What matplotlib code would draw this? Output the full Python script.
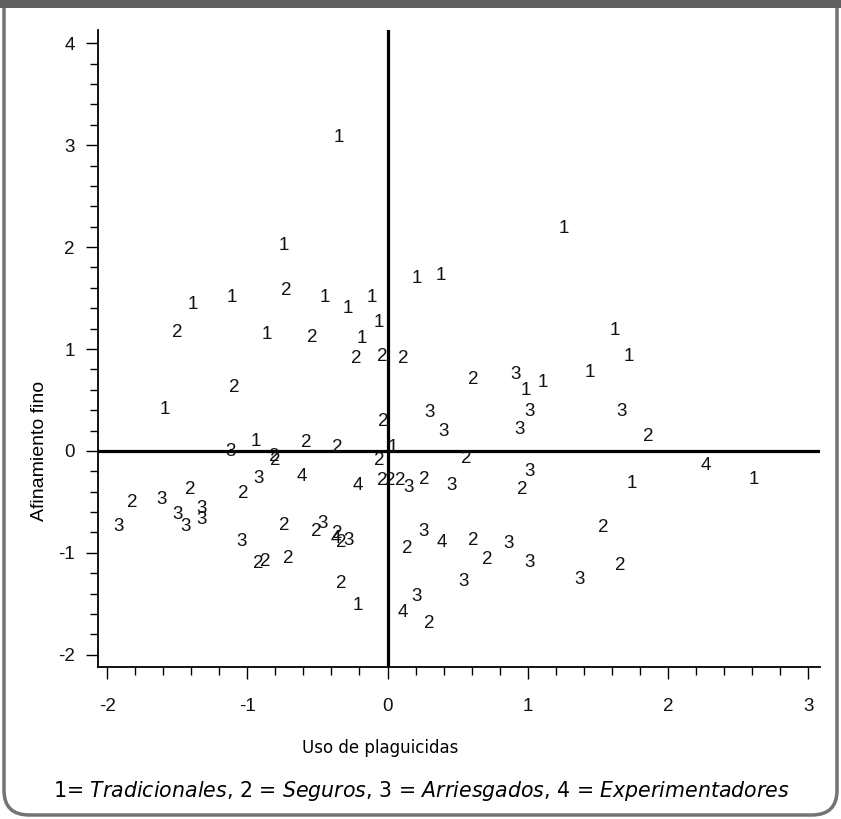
import matplotlib
matplotlib.use("Agg")
import matplotlib.pyplot as plt
from matplotlib.patches import FancyBboxPatch, Rectangle
from matplotlib.ticker import MultipleLocator

plt.rcParams['axes.unicode_minus'] = False
plt.rcParams['mathtext.fontset'] = 'custom'
plt.rcParams['mathtext.rm'] = 'DejaVu Sans'
plt.rcParams['mathtext.it'] = 'DejaVu Sans:italic'

# grupo de cada productor y sus puntuaciones en los dos factores
grupo = ['1'] * 24 + ['2'] * 38 + ['3'] * 26 + ['4'] * 6
uso = [
    # 1 = Tradicionales
    -0.35, 1.26, -0.74, 0.21, 0.38, -1.39, -1.11, -0.45, -0.28, -0.11, -0.06, -0.18,
    -0.86, 1.62, 1.72, 1.44, 0.99, 1.11, -1.59, -0.94, 0.04, 1.74, 2.61, -0.21,
    # 2 = Seguros
    -0.72, -1.50, -0.54, -0.22, -0.04, 0.11, 0.61, -1.09, -0.03, 1.86, -0.58, -0.36,
    -0.81, -0.80, -0.06, 0.56, -0.04, 0.02, 0.09, 0.26, 0.96, -1.41, -1.03, -1.82,
    -0.74, -0.51, -0.36, -0.33, 1.54, 0.61, 0.14, -0.92, -0.87, -0.71, 0.71, 1.66,
    -0.33, 0.30,
    # 3 = Arriesgados
    0.91, 0.30, 1.01, 1.67, 0.40, 0.94, -1.12, -0.92, 1.01, 0.15, 0.46, -1.61,
    -1.50, -1.33, -1.33, -1.44, -1.92, -0.46, -0.28, -1.04, 0.26, 0.86, 1.01, 0.54,
    1.37, 0.21,
    # 4 = Experimentadores
    -0.61, -0.21, -0.37, 0.39, 2.27, 0.11,
]
afinamiento = [
    3.08, 2.18, 2.02, 1.69, 1.72, 1.44, 1.51, 1.51, 1.40, 1.51, 1.26, 1.10,
    1.14, 1.18, 0.93, 0.77, 0.59, 0.67, 0.41, 0.09, 0.03, -0.32, -0.28, -1.52,
    1.57, 1.16, 1.11, 0.91, 0.93, 0.91, 0.70, 0.62, 0.29, 0.14, 0.08, 0.03,
    -0.05, -0.09, -0.09, -0.07, -0.29, -0.29, -0.29, -0.28, -0.38, -0.38, -0.42, -0.51,
    -0.73, -0.79, -0.81, -0.90, -0.75, -0.88, -0.96, -1.10, -1.08, -1.06, -1.07, -1.12,
    -1.30, -1.69,
    0.75, 0.38, 0.39, 0.39, 0.19, 0.21, -0.01, -0.27, -0.20, -0.36, -0.34, -0.48,
    -0.62, -0.56, -0.67, -0.74, -0.74, -0.71, -0.88, -0.89, -0.79, -0.91, -1.09, -1.28,
    -1.26, -1.43,
    -0.25, -0.34, -0.86, -0.90, -0.14, -1.59,
]

W, H = 841, 819
fig = plt.figure(figsize=(W / 100, H / 100), dpi=100)

# marco redondeado y franja superior
frame = FancyBboxPatch((4 / W, 4 / H), 833 / W, 840 / H,
                       boxstyle="round,pad=0,rounding_size=0.03",
                       transform=fig.transFigure, facecolor='white',
                       edgecolor='#737373', linewidth=2.5, zorder=-2)
fig.patches.append(frame)
fig.patches.append(Rectangle((0, 1 - 8 / H), 1, 8 / H, transform=fig.transFigure,
                             facecolor='#616161', edgecolor='none', zorder=-1))

ax = fig.add_axes([98 / W, 1 - 667 / H, 722 / W, 637 / H])
ax.set_zorder(5)
ax.set_facecolor('none')
ax.set_xlim(-2.065, 3.085)
ax.set_ylim(-2.12, 4.13)

for g, x, y in zip(grupo, uso, afinamiento):
    ax.text(x, y, g, ha='center', va='center', fontsize=13.5,
            family='Liberation Sans', color='#111111')

ax.axhline(0, color='black', lw=2.3)
ax.axvline(0, color='black', lw=2.3)

for s in ['top', 'right']:
    ax.spines[s].set_visible(False)
for s in ['left', 'bottom']:
    ax.spines[s].set_linewidth(1.3)

ax.xaxis.set_major_locator(MultipleLocator(1))
ax.xaxis.set_minor_locator(MultipleLocator(0.2))
ax.yaxis.set_major_locator(MultipleLocator(1))
ax.yaxis.set_minor_locator(MultipleLocator(0.2))
ax.tick_params(axis='both', which='major', length=8.6, width=1.0)
ax.tick_params(axis='both', which='minor', length=5.5, width=1.0)
ax.tick_params(axis='x', which='major', pad=14)
ax.tick_params(axis='y', which='major', pad=8)
for lab in ax.get_xticklabels() + ax.get_yticklabels():
    lab.set_family('Liberation Sans')
    lab.set_fontsize(13.5)
    lab.set_color('#111111')

fig.text(380 / W, 1 - 748 / H, 'Uso de plaguicidas', ha='center', va='center',
         fontsize=12, family='DejaVu Sans')
fig.text(40 / W, 1 - 451 / H, 'Afinamiento fino', ha='center', va='center',
         rotation=90, fontsize=14, family='Liberation Sans')
fig.text(421 / W, 1 - 791 / H,
         r'1= $\mathit{Tradicionales}$, 2 = $\mathit{Seguros}$, 3 = $\mathit{Arriesgados}$, 4 = $\mathit{Experimentadores}$',
         ha='center', va='center', fontsize=14.8)

fig.savefig('out.png', dpi=100)
